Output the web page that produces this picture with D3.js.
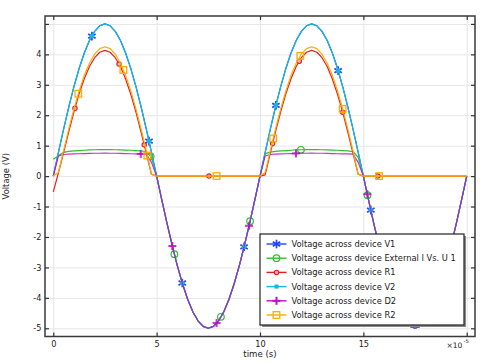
<!DOCTYPE html>
<html><head><meta charset="utf-8">
<script src="https://cdn.jsdelivr.net/npm/d3@7"></script>
<style>
body{margin:0;background:#fff}
svg{display:block}
text{font-family:"DejaVu Sans",sans-serif;fill:#1a1a1a}
</style></head>
<body><svg id="c" width="483" height="363"></svg>
<script>
// time in units of 1e-5 s
const time = [0,0.25,0.5,0.75,1,1.25,1.5,1.75,2,2.25,2.5,2.75,3,3.25,3.5,3.75,4,4.25,4.5,4.75,5,
5.25,5.5,5.75,6,6.25,6.5,6.75,7,7.25,7.5,7.75,8,8.25,8.5,8.75,9,9.25,9.5,9.75,10,
10.25,10.5,10.75,11,11.25,11.5,11.75,12,12.25,12.5,12.75,13,13.25,13.5,13.75,14,14.25,14.5,14.75,15,
15.25,15.5,15.75,16,16.25,16.5,16.75,17,17.25,17.5,17.75,18,18.25,18.5,18.75,19,19.25,19.5,19.75,20];

const vV1 = [0,0.782,1.545,2.270,2.939,3.536,4.045,4.455,4.755,4.938,5,4.938,4.755,4.455,4.045,3.536,2.939,2.270,1.545,0.782,0,
-0.782,-1.545,-2.270,-2.939,-3.536,-4.045,-4.455,-4.755,-4.938,-5,-4.938,-4.755,-4.455,-4.045,-3.536,-2.939,-2.270,-1.545,-0.782,0,
0.782,1.545,2.270,2.939,3.536,4.045,4.455,4.755,4.938,5,4.938,4.755,4.455,4.045,3.536,2.939,2.270,1.545,0.782,0,
-0.782,-1.545,-2.270,-2.939,-3.536,-4.045,-4.455,-4.755,-4.938,-5,-4.938,-4.755,-4.455,-4.045,-3.536,-2.939,-2.270,-1.545,-0.782,0];

const vExt = [0.55,0.67,0.78,0.81,0.83,0.84,0.85,0.86,0.865,0.87,0.87,0.87,0.865,0.86,0.855,0.85,0.84,0.83,0.80,0.62,0,
-0.782,-1.545,-2.270,-2.939,-3.536,-4.045,-4.455,-4.755,-4.938,-5,-4.938,-4.755,-4.455,-4.045,-3.536,-2.939,-2.270,-1.545,-0.782,0,
0.74,0.79,0.81,0.83,0.84,0.85,0.86,0.865,0.87,0.87,0.87,0.865,0.86,0.855,0.85,0.84,0.83,0.80,0.62,0,
-0.782,-1.545,-2.270,-2.939,-3.536,-4.045,-4.455,-4.755,-4.938,-5,-4.938,-4.755,-4.455,-4.045,-3.536,-2.939,-2.270,-1.545,-0.782,0];

const vR1 = [-0.52,0.11,0.77,1.46,2.11,2.70,3.20,3.60,3.89,4.07,4.13,4.07,3.89,3.60,3.19,2.69,2.10,1.44,0.75,0.06,0,
0,0,0,0,0,0,0,0,0,0,0,0,0,0,0,0,0,0,0,0,
0.04,0.76,1.46,2.11,2.70,3.20,3.60,3.89,4.07,4.13,4.07,3.89,3.60,3.19,2.69,2.10,1.44,0.75,0.06,0,
0,0,0,0,0,0,0,0,0,0,0,0,0,0,0,0,0,0,0,0];

const vV2 = [0,0.782,1.545,2.270,2.939,3.536,4.045,4.455,4.755,4.938,5,4.938,4.755,4.455,4.045,3.536,2.939,2.270,1.545,0.782,0,
-0.782,-1.545,-2.270,-2.939,-3.536,-4.045,-4.455,-4.755,-4.938,-5,-4.938,-4.755,-4.455,-4.045,-3.536,-2.939,-2.270,-1.545,-0.782,0,
0.782,1.545,2.270,2.939,3.536,4.045,4.455,4.755,4.938,5,4.938,4.755,4.455,4.045,3.536,2.939,2.270,1.545,0.782,0,
-0.782,-1.545,-2.270,-2.939,-3.536,-4.045,-4.455,-4.755,-4.938,-5,-4.938,-4.755,-4.455,-4.045,-3.536,-2.939,-2.270,-1.545,-0.782,0];

const vD2 = [0,0.66,0.71,0.72,0.73,0.735,0.74,0.745,0.75,0.75,0.755,0.75,0.75,0.745,0.74,0.735,0.73,0.73,0.72,0.45,0,
-0.782,-1.545,-2.270,-2.939,-3.536,-4.045,-4.455,-4.755,-4.938,-5,-4.938,-4.755,-4.455,-4.045,-3.536,-2.939,-2.270,-1.545,-0.782,0,
0.66,0.71,0.72,0.73,0.735,0.74,0.745,0.75,0.75,0.755,0.75,0.75,0.745,0.74,0.735,0.73,0.73,0.72,0.45,0,
-0.782,-1.545,-2.270,-2.939,-3.536,-4.045,-4.455,-4.755,-4.938,-5,-4.938,-4.755,-4.455,-4.045,-3.536,-2.939,-2.270,-1.545,-0.782,0];

const vR2 = [0,0.12,0.84,1.55,2.21,2.80,3.31,3.71,4.01,4.19,4.25,4.19,4.01,3.71,3.31,2.80,2.21,1.54,0.83,0.06,0,
0,0,0,0,0,0,0,0,0,0,0,0,0,0,0,0,0,0,0,0,
0.12,0.84,1.55,2.21,2.80,3.31,3.71,4.01,4.19,4.25,4.19,4.01,3.71,3.31,2.80,2.21,1.54,0.83,0.06,0,
0,0,0,0,0,0,0,0,0,0,0,0,0,0,0,0,0,0,0,0];

// marker times (1e-5 s)
const mkV1 = [1.87,4.63,6.24,9.23,10.77,13.78,15.36];
const mkExt = [4.71,5.86,8.11,9.52,11.98,15.2];
const mkR1 = [1.05,3.18,4.4,7.53,10.61,11.9,14.0,15.7];
const mkV2 = [1.87,4.63,6.24,9.23,10.77,13.78,15.36];
const mkD2 = [4.23,5.76,7.9,9.47,11.74,15.19];
const mkR2 = [1.21,3.39,4.55,7.9,10.64,11.95,14.0,15.76];

const names = ["Voltage across device V1","Voltage across device External I Vs. U 1","Voltage across device R1",
"Voltage across device V2","Voltage across device D2","Voltage across device R2"];
const xTicks = [0,5,10,15,20];
const xLabels = ["0","5","10","15",""];
const yTicks = [-5,-4,-3,-2,-1,0,1,2,3,4,5];
const yLabels = ["-5","-4","-3","-2","-1","0","1","2","3","4",""];

const series = [
 {name:names[0], vals:vV1, mk:mkV1, color:"#1f45ff", shape:"ast"},
 {name:names[1], vals:vExt, mk:mkExt, color:"#2fbf2f", shape:"circ"},
 {name:names[2], vals:vR1, mk:mkR1, color:"#e02020", shape:"dot"},
 {name:names[3], vals:vV2, mk:mkV2, color:"#12bad8", shape:"fsq"},
 {name:names[4], vals:vD2, mk:mkD2, color:"#bb10c4", shape:"plus", op:0.85},
 {name:names[5], vals:vR2, mk:mkR2, color:"#ffab00", shape:"sq"}
];

const svg = d3.select("#c");
const L=45,R=475,T=16,B=336.5;
const x = d3.scaleLinear().domain([-0.4,20.4]).range([L,R]);
const y = d3.scaleLinear().domain([-5.27,5.26]).range([B,T]);

svg.append("rect").attr("width",483).attr("height",363).attr("fill","#fff");

// grid
const gx = svg.append("g").attr("transform",`translate(0,${B})`)
  .call(d3.axisBottom(x).tickValues(xTicks).tickSize(-(B-T)).tickFormat(""));
const gy = svg.append("g").attr("transform",`translate(${L},0)`)
  .call(d3.axisLeft(y).tickValues(yTicks).tickSize(-(R-L)).tickFormat(""));
[gx,gy].forEach(g=>{g.select(".domain").remove();g.selectAll("line").attr("stroke","#e6e6e6").attr("stroke-width",1);});

svg.append("clipPath").attr("id","clip").append("rect").attr("x",L).attr("y",T).attr("width",R-L).attr("height",B-T);
const plot = svg.append("g").attr("clip-path","url(#clip)");

function interp(vals,t){
  const i = Math.min(Math.max(d3.bisectRight(time,t),1),time.length-1);
  const t0=time[i-1],t1=time[i];
  return vals[i-1]+(vals[i]-vals[i-1])*(t-t0)/(t1-t0);
}
function drawMarker(g,shape,color,cx,cy,op){
  const o = op||1;
  if(shape==="ast"){
    const r=4.3;
    [90,30,150].forEach(a=>{const rad=a*Math.PI/180;
      g.append("line").attr("x1",cx-r*Math.cos(rad)).attr("y1",cy-r*Math.sin(rad))
       .attr("x2",cx+r*Math.cos(rad)).attr("y2",cy+r*Math.sin(rad))
       .attr("stroke",color).attr("stroke-width",1.7);});
  } else if(shape==="circ"){
    g.append("circle").attr("cx",cx).attr("cy",cy).attr("r",3.3).attr("fill","none").attr("stroke",color).attr("stroke-width",1.2);
  } else if(shape==="dot"){
    g.append("circle").attr("cx",cx).attr("cy",cy).attr("r",2.2).attr("fill","#f7b0b0").attr("stroke",color).attr("stroke-width",1.1);
  } else if(shape==="fsq"){
    g.append("rect").attr("x",cx-2).attr("y",cy-2).attr("width",4).attr("height",4).attr("fill",color);
  } else if(shape==="plus"){
    const r=4;
    g.append("line").attr("x1",cx-r).attr("x2",cx+r).attr("y1",cy).attr("y2",cy).attr("stroke",color).attr("stroke-width",2).attr("opacity",o);
    g.append("line").attr("x1",cx).attr("x2",cx).attr("y1",cy-r).attr("y2",cy+r).attr("stroke",color).attr("stroke-width",2).attr("opacity",o);
  } else if(shape==="sq"){
    g.append("rect").attr("x",cx-3.3).attr("y",cy-3.3).attr("width",6.6).attr("height",6.6).attr("fill","none").attr("stroke",color).attr("stroke-width",1.3);
  }
}

const line = d3.line().x((d,i)=>x(time[i])).y(d=>y(d));
series.forEach(s=>{
  plot.append("path").attr("d",line(s.vals)).attr("fill","none").attr("stroke",s.color)
    .attr("stroke-width",1.2).attr("stroke-opacity",s.op||1).attr("stroke-linejoin","round");
  s.mk.forEach(t=>drawMarker(plot,s.shape,s.color,x(t),y(interp(s.vals,t)),s.op));
});

// frame
svg.append("rect").attr("x",L).attr("y",T).attr("width",R-L).attr("height",B-T)
  .attr("fill","none").attr("stroke","#3a3a3a").attr("stroke-width",1.5);

// axes with inward ticks
const ax = svg.append("g").attr("transform",`translate(0,${B})`)
  .call(d3.axisBottom(x).tickValues(xTicks).tickSize(-4).tickPadding(5).tickFormat((d,i)=>xLabels[i]));
const axT = svg.append("g").attr("transform",`translate(0,${T})`)
  .call(d3.axisTop(x).tickValues(xTicks).tickSize(-4).tickFormat(""));
const ay = svg.append("g").attr("transform",`translate(${L},0)`)
  .call(d3.axisLeft(y).tickValues(yTicks).tickSize(-4).tickPadding(3.5).tickFormat((d,i)=>yLabels[i]));
const ayR = svg.append("g").attr("transform",`translate(${R},0)`)
  .call(d3.axisRight(y).tickValues(yTicks).tickSize(-4).tickFormat(""));
[ax,axT,ay,ayR].forEach(g=>{g.select(".domain").remove();
  g.selectAll("line").attr("stroke","#333").attr("stroke-width",1.2);
  g.selectAll("text").attr("font-size","8.2px").attr("font-family","DejaVu Sans").attr("fill","#1a1a1a");});

// exponent
svg.append("text").attr("x",446.5).attr("y",347.5).attr("font-size","7.5px").text("×10");
svg.append("text").attr("x",463.5).attr("y",342.5).attr("font-size","5.3px").text("-5");

// axis titles
svg.append("text").attr("x",(L+R)/2).attr("y",356.5).attr("text-anchor","middle").attr("font-size","8.6px").text("time (s)");
svg.append("text").attr("transform",`translate(8.5,${(T+B)/2}) rotate(-90)`).attr("text-anchor","middle")
  .attr("font-size","8.4px").text("Voltage (V)");

// legend
const lg = svg.append("g");
const lx=260, ly=234, lw=204, lh=91;
lg.append("rect").attr("x",lx+2).attr("y",ly+2).attr("width",lw).attr("height",lh).attr("fill","#8a8a8a");
lg.append("rect").attr("x",lx).attr("y",ly).attr("width",lw).attr("height",lh).attr("fill","#fff").attr("stroke","#222").attr("stroke-width",1.2);
series.forEach((s,i)=>{
  const cy = 244 + i*14.2;
  lg.append("line").attr("x1",266.5).attr("x2",286.5).attr("y1",cy).attr("y2",cy).attr("stroke",s.color).attr("stroke-width",1.4);
  drawMarker(lg,s.shape,s.color,276.5,cy,1);
  lg.append("text").attr("x",291.5).attr("y",cy).attr("dy","0.35em").attr("font-size","8.3px").text(s.name);
});
</script></body></html>
